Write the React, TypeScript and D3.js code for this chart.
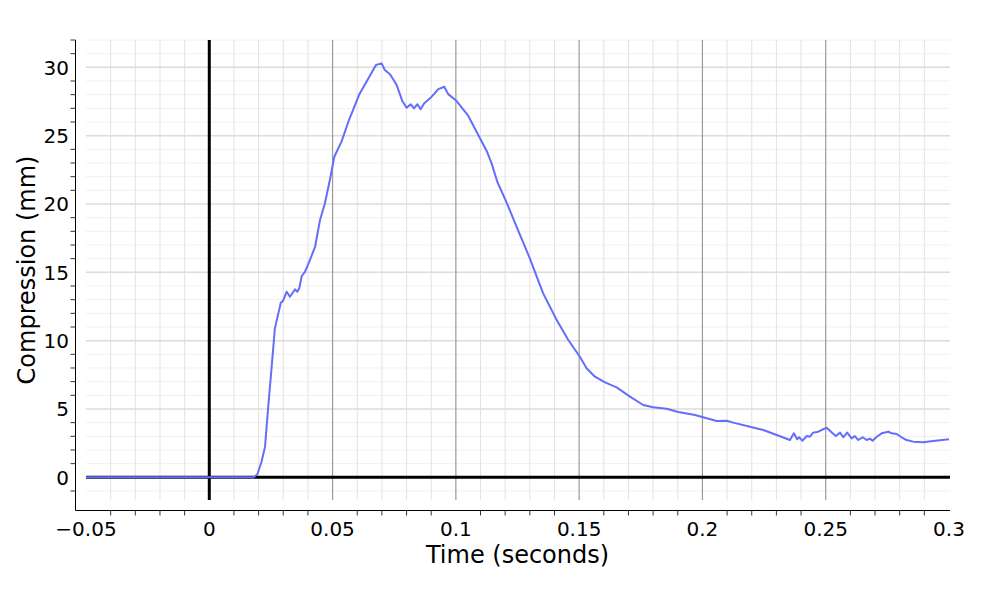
import React from "react";
import * as d3 from "d3";

const timeValues: number[] = [
  -0.05, 0.0, 0.018, 0.0195, 0.0212, 0.0226, 0.0239, 0.0253, 0.0266, 0.029, 0.0298, 0.0314, 0.0327,
  0.0348, 0.0357, 0.0365, 0.0375, 0.0388, 0.0408, 0.0429, 0.0449, 0.0469, 0.0489, 0.0507,
  0.0537, 0.0564, 0.0591, 0.0607, 0.0645, 0.0676, 0.0699, 0.0712, 0.0733, 0.076, 0.0783,
  0.080, 0.0817, 0.083, 0.0844, 0.0857, 0.0871, 0.0902, 0.0929, 0.0953, 0.0969, 0.1003,
  0.105, 0.1084, 0.1125, 0.1145, 0.1168, 0.1206, 0.1247, 0.130, 0.1328, 0.1354, 0.1409,
  0.1456, 0.1503, 0.153, 0.1564, 0.1605, 0.1652, 0.1706, 0.176, 0.180, 0.1855, 0.1902,
  0.197, 0.2003, 0.2058, 0.2098, 0.2125, 0.2193, 0.2247, 0.2301, 0.2355, 0.2371, 0.2384,
  0.2392, 0.2406, 0.2423, 0.2436, 0.2449, 0.247, 0.2483, 0.2504, 0.2528, 0.2541, 0.2558,
  0.2571, 0.2587, 0.2605, 0.2618, 0.2632, 0.265, 0.2666, 0.268, 0.269, 0.2707, 0.2727,
  0.2754, 0.2767, 0.2788, 0.2808, 0.2828, 0.2855, 0.2895, 0.2936, 0.3,
];

const compressionValues: number[] = [
  0.0, 0.0, 0.0, 0.22, 1.14, 2.24, 5.17, 8.09, 10.9, 12.78, 12.88, 13.58, 13.21,
  13.75, 13.58, 13.83, 14.73, 15.04, 15.9, 16.87, 18.83, 20.05, 21.75, 23.46,
  24.6, 26.02, 27.24, 27.97, 29.19, 30.17, 30.29, 29.8, 29.49, 28.7, 27.53,
  27.04, 27.29, 27.0, 27.3, 26.93, 27.36, 27.85, 28.41, 28.58, 28.04, 27.53,
  26.46, 25.29, 23.88, 22.97, 21.63, 20.1, 18.3, 16.02, 14.68, 13.46, 11.51,
  10.05, 8.82, 7.98, 7.36, 6.95, 6.58, 5.9, 5.29, 5.12, 5.02, 4.78,
  4.56, 4.39, 4.12, 4.14, 4.0, 3.7, 3.46, 3.1, 2.73, 3.22, 2.78,
  2.93, 2.68, 3.02, 2.97, 3.27, 3.34, 3.46, 3.63, 3.22, 3.02, 3.27,
  2.93, 3.27, 2.85, 3.02, 2.73, 2.93, 2.73, 2.83, 2.68, 2.97, 3.22,
  3.34, 3.22, 3.17, 2.93, 2.73, 2.61, 2.56, 2.66, 2.78,
];

const xTickValues: number[] = [-0.05, 0, 0.05, 0.1, 0.15, 0.2, 0.25, 0.3];
const xTickLabels: string[] = ["\u22120.05", "0", "0.05", "0.1", "0.15", "0.2", "0.25", "0.3"];
const yTickValues: number[] = [0, 5, 10, 15, 20, 25, 30];
const yTickLabels: string[] = ["0", "5", "10", "15", "20", "25", "30"];

const xTitle = "Time (seconds)";
const yTitle = "Compression (mm)";

const W = 1000;
const H = 600;
const plotLeft = 86;
const plotRight = 949;
const plotTop = 40;
const plotBottom = 500;
const axisLeftX = 75.5;
const axisBottomY = 510.5;
const FONT = "'DejaVu Sans', Verdana, sans-serif";

export default function App() {
  const x = d3.scaleLinear().domain([-0.05, 0.3]).range([plotLeft, plotRight]);
  const y = d3.scaleLinear().domain([-1.66, 32.0]).range([plotBottom, plotTop]);

  const points: [number, number][] = timeValues.map((t, i) => [t, compressionValues[i]]);
  const line = d3
    .line<[number, number]>()
    .x((d) => x(d[0]))
    .y((d) => y(d[1]));

  const xMinor = d3.range(-5, 31).map((k) => k / 100);
  const yMinor = d3.range(-1, 33).map((k) => k);
  const isXMajor = (v: number) => Math.abs(Math.round(v * 100) % 5) === 0;
  const isYMajor = (v: number) => v % 5 === 0;

  return (
    <svg
      width={W}
      height={H}
      style={{ position: "absolute", left: 0, top: 0, background: "#fff" }}
      fontFamily={FONT}
    >
      <rect x={0} y={0} width={W} height={H} fill="#fff" />
      {yMinor
        .filter((v) => !isYMajor(v) && y(v) >= plotTop && y(v) <= plotBottom)
        .map((v) => (
          <line key={"ym" + v} x1={plotLeft} x2={plotRight + 1} y1={y(v)} y2={y(v)} stroke="#f0f0f0" strokeWidth={1} />
        ))}
      {xMinor
        .filter((v) => !isXMajor(v))
        .map((v) => (
          <line key={"xm" + v} x1={x(v)} x2={x(v)} y1={plotTop} y2={plotBottom} stroke="#e2e2e2" strokeWidth={1} />
        ))}
      {yTickValues
        .filter((v) => v !== 0)
        .map((v) => (
          <line key={"yM" + v} x1={plotLeft} x2={plotRight + 1} y1={y(v)} y2={y(v)} stroke="#dcdcdc" strokeWidth={1.5} />
        ))}
      {xTickValues
        .filter((v) => v !== 0 && v !== -0.05 && v !== 0.3)
        .map((v) => (
          <line key={"xM" + v} x1={x(v)} x2={x(v)} y1={plotTop} y2={plotBottom} stroke="#9a9a9a" strokeWidth={1.2} />
        ))}
      <line x1={x(0)} x2={x(0)} y1={plotTop} y2={plotBottom} stroke="#000" strokeWidth={3} />
      <line x1={plotLeft} x2={plotRight + 1} y1={y(0)} y2={y(0)} stroke="#000" strokeWidth={3} />

      <path d={line(points) || ""} fill="none" stroke="#636efa" strokeWidth={2} strokeLinejoin="round" />

      <line x1={axisLeftX} x2={axisLeftX} y1={plotTop} y2={axisBottomY} stroke="#000" strokeWidth={1} />
      <line x1={axisLeftX} x2={plotRight + 1} y1={axisBottomY} y2={axisBottomY} stroke="#000" strokeWidth={1} />

      {xMinor
        .filter((v) => !isXMajor(v))
        .map((v) => (
          <line key={"xt" + v} x1={x(v)} x2={x(v)} y1={axisBottomY} y2={axisBottomY + 5} stroke="#333" strokeWidth={1} />
        ))}
      {yMinor
        .filter((v) => !isYMajor(v) && y(v) >= plotTop && y(v) <= plotBottom)
        .map((v) => (
          <line key={"yt" + v} x1={axisLeftX - 5} x2={axisLeftX} y1={y(v)} y2={y(v)} stroke="#333" strokeWidth={1} />
        ))}

      {xTickValues.map((v, i) => (
        <text key={"xl" + v} x={x(v)} y={535.5} textAnchor="middle" fontSize={20} fill="#000">
          {xTickLabels[i]}
        </text>
      ))}
      {yTickValues.map((v, i) => (
        <text key={"yl" + v} x={69} y={y(v)} dy="0.36em" textAnchor="end" fontSize={20} fill="#000">
          {yTickLabels[i]}
        </text>
      ))}

      <text x={(plotLeft + plotRight) / 2} y={563} textAnchor="middle" fontSize={24} fill="#000">
        {xTitle}
      </text>
      <text
        transform={`translate(${26}, ${(plotTop + plotBottom) / 2}) rotate(-90)`}
        dy="0.36em"
        textAnchor="middle"
        fontSize={24}
        fill="#000"
      >
        {yTitle}
      </text>
    </svg>
  );
}
